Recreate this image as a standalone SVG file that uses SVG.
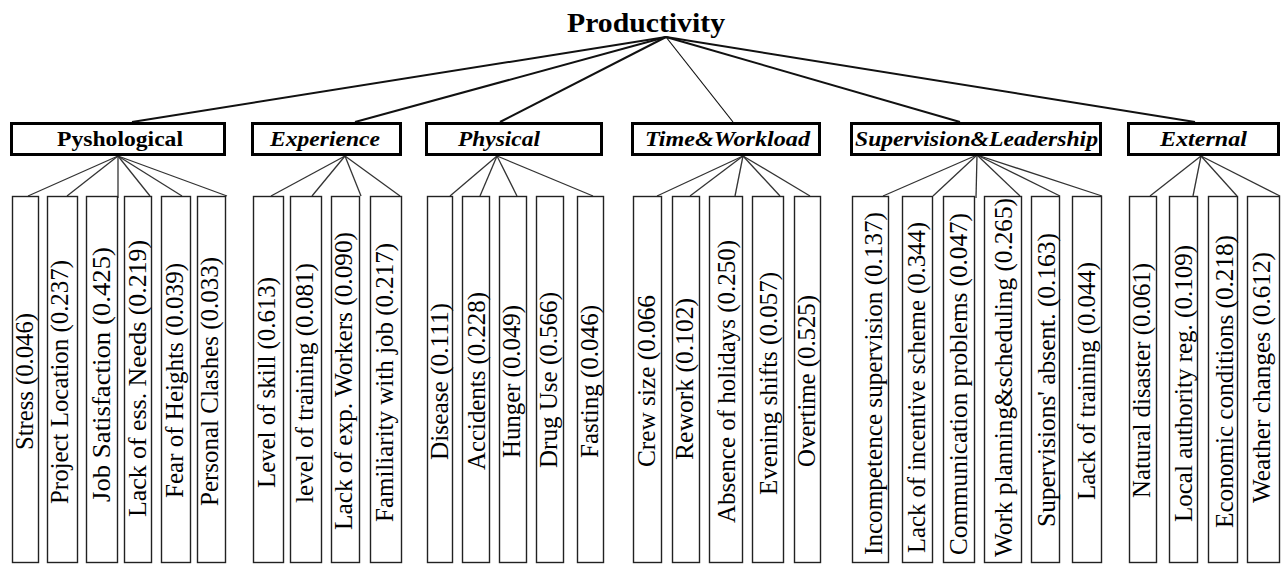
<svg xmlns="http://www.w3.org/2000/svg" width="1282" height="564" viewBox="0 0 1282 564">
<style>
.cat{fill:#fff;stroke:#000;stroke-width:3}
.leaf{fill:#fff;stroke:#222;stroke-width:1.4}
.ct{font-weight:bold;font-size:22px;fill:#000}
.it{font-style:italic}
.lt{font-size:25px;fill:#000}
.c1 line{stroke:#111;stroke-width:2}
.c2 line{stroke:#333;stroke-width:1.3}
</style>
<rect width="1282" height="564" fill="#fff"/>
<g id="connectors">
<g class="c1">
<line x1="666" y1="37" x2="132" y2="122"/>
<line x1="666" y1="37" x2="355" y2="122"/>
<line x1="666" y1="37" x2="500" y2="122"/>
<line x1="666" y1="37" x2="733" y2="122" style="stroke-width:1.2"/>
<line x1="666" y1="37" x2="960" y2="122"/>
<line x1="666" y1="37" x2="1195" y2="122"/>
</g>
<g class="c2">
<line x1="118" y1="156" x2="28" y2="196"/>
<line x1="118" y1="156" x2="67" y2="196"/>
<line x1="118" y1="156" x2="118" y2="198"/>
<line x1="118" y1="156" x2="150" y2="196"/>
<line x1="118" y1="156" x2="182" y2="196"/>
<line x1="118" y1="156" x2="227" y2="196"/>
<line x1="345" y1="156" x2="271" y2="196"/>
<line x1="345" y1="156" x2="312" y2="196"/>
<line x1="345" y1="156" x2="361" y2="196"/>
<line x1="345" y1="156" x2="400" y2="196"/>
<line x1="497" y1="156" x2="450" y2="196"/>
<line x1="497" y1="156" x2="480" y2="196"/>
<line x1="497" y1="156" x2="517" y2="196"/>
<line x1="497" y1="156" x2="593" y2="196"/>
<line x1="743" y1="156" x2="657" y2="196"/>
<line x1="743" y1="156" x2="690" y2="196"/>
<line x1="743" y1="156" x2="735" y2="196"/>
<line x1="743" y1="156" x2="780" y2="196"/>
<line x1="743" y1="156" x2="810" y2="196"/>
<line x1="977" y1="155" x2="883" y2="196"/>
<line x1="977" y1="155" x2="933" y2="196"/>
<line x1="977" y1="155" x2="976" y2="198"/>
<line x1="977" y1="155" x2="1020" y2="196"/>
<line x1="977" y1="155" x2="1060" y2="196"/>
<line x1="977" y1="155" x2="1102" y2="196"/>
<line x1="1201" y1="156" x2="1150" y2="196"/>
<line x1="1201" y1="156" x2="1193" y2="196"/>
<line x1="1201" y1="156" x2="1237" y2="196"/>
<line x1="1201" y1="156" x2="1280" y2="196"/>
</g>
</g>
<g font-family="Liberation Serif, Times New Roman, serif">
<g id="productivity">
<text x="567" y="32" font-weight="bold" font-size="28" textLength="158" lengthAdjust="spacingAndGlyphs">Productivity</text>
</g>
<g id="pyshological"><rect class="cat" x="11.5" y="123.5" width="213" height="31"/><text class="ct" x="57" y="146" textLength="126" lengthAdjust="spacingAndGlyphs">Pyshological</text></g>
<g id="experience"><rect class="cat" x="252.5" y="123.5" width="148" height="31"/><text class="ct it" x="270" y="146" textLength="110" lengthAdjust="spacingAndGlyphs">Experience</text></g>
<g id="physical"><rect class="cat" x="426.5" y="123.5" width="175" height="31"/><text class="ct it" x="458" y="146" textLength="82" lengthAdjust="spacingAndGlyphs">Physical</text></g>
<g id="timeworkload"><rect class="cat" x="632.5" y="123.5" width="187" height="31"/><text class="ct it" x="645" y="146" textLength="165" lengthAdjust="spacingAndGlyphs">Time&amp;Workload</text></g>
<g id="supervision"><rect class="cat" x="851.5" y="123.5" width="249" height="31"/><text class="ct it" x="855" y="146" textLength="243" lengthAdjust="spacingAndGlyphs">Supervision&amp;Leadership</text></g>
<g id="external"><rect class="cat" x="1128.5" y="123.5" width="150" height="31"/><text class="ct it" x="1160" y="146" textLength="87" lengthAdjust="spacingAndGlyphs">External</text></g>

<g id="l1"><rect class="leaf" x="12.5" y="196.5" width="26" height="366"/><text class="lt" transform="translate(33,450) rotate(-90)" textLength="137" lengthAdjust="spacingAndGlyphs">Stress (0.046)</text></g>
<g id="l2"><rect class="leaf" x="47.5" y="196.5" width="30" height="366"/><text class="lt" transform="translate(68,504) rotate(-90)" textLength="244" lengthAdjust="spacingAndGlyphs">Project Location (0.237)</text></g>
<g id="l3"><rect class="leaf" x="86.5" y="196.5" width="31" height="366"/><text class="lt" transform="translate(110,502) rotate(-90)" textLength="255" lengthAdjust="spacingAndGlyphs">Job Satisfaction (0.425)</text></g>
<g id="l4"><rect class="leaf" x="124.5" y="196.5" width="27" height="366"/><text class="lt" transform="translate(146,517) rotate(-90)" textLength="277" lengthAdjust="spacingAndGlyphs">Lack of ess. Needs (0.219)</text></g>
<g id="l5"><rect class="leaf" x="161.5" y="196.5" width="29" height="366"/><text class="lt" transform="translate(183,498) rotate(-90)" textLength="235" lengthAdjust="spacingAndGlyphs">Fear of Heights (0.039)</text></g>
<g id="l6"><rect class="leaf" x="197.5" y="196.5" width="28" height="366"/><text class="lt" transform="translate(218,506) rotate(-90)" textLength="249" lengthAdjust="spacingAndGlyphs">Personal Clashes (0.033)</text></g>
<g id="l7"><rect class="leaf" x="253.5" y="196.5" width="30" height="366"/><text class="lt" transform="translate(275,488) rotate(-90)" textLength="211" lengthAdjust="spacingAndGlyphs">Level of skill (0.613)</text></g>
<g id="l8"><rect class="leaf" x="290.5" y="196.5" width="31" height="366"/><text class="lt" transform="translate(313,503) rotate(-90)" textLength="240" lengthAdjust="spacingAndGlyphs">level of training (0.081)</text></g>
<g id="l9"><rect class="leaf" x="331.5" y="196.5" width="28" height="366"/><text class="lt" transform="translate(352,530) rotate(-90)" textLength="298" lengthAdjust="spacingAndGlyphs">Lack of exp. Workers (0.090)</text></g>
<g id="l10"><rect class="leaf" x="370.5" y="196.5" width="31" height="366"/><text class="lt" transform="translate(393,522) rotate(-90)" textLength="279" lengthAdjust="spacingAndGlyphs">Familiarity with job (0.217)</text></g>
<g id="l11"><rect class="leaf" x="427.5" y="196.5" width="25" height="366"/><text class="lt" transform="translate(448,460) rotate(-90)" textLength="157" lengthAdjust="spacingAndGlyphs">Disease (0.111)</text></g>
<g id="l12"><rect class="leaf" x="462.5" y="196.5" width="27" height="366"/><text class="lt" transform="translate(485,470) rotate(-90)" textLength="178" lengthAdjust="spacingAndGlyphs">Accidents (0.228)</text></g>
<g id="l13"><rect class="leaf" x="499.5" y="196.5" width="27" height="366"/><text class="lt" transform="translate(520,458) rotate(-90)" textLength="153" lengthAdjust="spacingAndGlyphs">Hunger (0.049)</text></g>
<g id="l14"><rect class="leaf" x="536.5" y="196.5" width="27" height="366"/><text class="lt" transform="translate(557,468) rotate(-90)" textLength="176" lengthAdjust="spacingAndGlyphs">Drug Use (0.566)</text></g>
<g id="l15"><rect class="leaf" x="577.5" y="196.5" width="26" height="366"/><text class="lt" transform="translate(598,458) rotate(-90)" textLength="153" lengthAdjust="spacingAndGlyphs">Fasting (0.046)</text></g>
<g id="l16"><rect class="leaf" x="633.5" y="196.5" width="28" height="366"/><text class="lt" transform="translate(655,467) rotate(-90)" textLength="172" lengthAdjust="spacingAndGlyphs">Crew size (0.066</text></g>
<g id="l17"><rect class="leaf" x="672.5" y="196.5" width="27" height="366"/><text class="lt" transform="translate(693,460) rotate(-90)" textLength="162" lengthAdjust="spacingAndGlyphs">Rework (0.102)</text></g>
<g id="l18"><rect class="leaf" x="709.5" y="196.5" width="33" height="366"/><text class="lt" transform="translate(735,523) rotate(-90)" textLength="283" lengthAdjust="spacingAndGlyphs">Absence of holidays (0.250)</text></g>
<g id="l19"><rect class="leaf" x="752.5" y="196.5" width="31" height="366"/><text class="lt" transform="translate(777,495) rotate(-90)" textLength="223" lengthAdjust="spacingAndGlyphs">Evening shifts (0.057)</text></g>
<g id="l20"><rect class="leaf" x="794.5" y="196.5" width="26" height="366"/><text class="lt" transform="translate(815,467) rotate(-90)" textLength="172" lengthAdjust="spacingAndGlyphs">Overtime (0.525)</text></g>
<g id="l21"><rect class="leaf" x="852.5" y="196.5" width="36" height="366"/><text class="lt" transform="translate(882,555) rotate(-90)" textLength="343" lengthAdjust="spacingAndGlyphs">Incompetence supervision (0.137)</text></g>
<g id="l22"><rect class="leaf" x="902.5" y="196.5" width="30" height="366"/><text class="lt" transform="translate(925,553) rotate(-90)" textLength="331" lengthAdjust="spacingAndGlyphs">Lack of incentive scheme (0.344)</text></g>
<g id="l23"><rect class="leaf" x="943.5" y="196.5" width="31" height="366"/><text class="lt" transform="translate(967,555) rotate(-90)" textLength="342" lengthAdjust="spacingAndGlyphs">Communication problems (0.047)</text></g>
<g id="l24"><rect class="leaf" x="984.5" y="196.5" width="37" height="366"/><text class="lt" transform="translate(1012,557) rotate(-90)" textLength="359" lengthAdjust="spacingAndGlyphs">Work planning&amp;scheduling (0.265)</text></g>
<g id="l25"><rect class="leaf" x="1031.5" y="196.5" width="28" height="366"/><text class="lt" transform="translate(1055,527) rotate(-90)" textLength="294" lengthAdjust="spacingAndGlyphs">Supervisions' absent. (0.163)</text></g>
<g id="l26"><rect class="leaf" x="1072.5" y="196.5" width="29" height="366"/><text class="lt" transform="translate(1095,500) rotate(-90)" textLength="238" lengthAdjust="spacingAndGlyphs">Lack of training (0.044)</text></g>
<g id="l27"><rect class="leaf" x="1129.5" y="196.5" width="27" height="366"/><text class="lt" transform="translate(1150,498) rotate(-90)" textLength="235" lengthAdjust="spacingAndGlyphs">Natural disaster (0.061)</text></g>
<g id="l28"><rect class="leaf" x="1169.5" y="196.5" width="28" height="366"/><text class="lt" transform="translate(1192,522) rotate(-90)" textLength="277" lengthAdjust="spacingAndGlyphs">Local authority reg. (0.109)</text></g>
<g id="l29"><rect class="leaf" x="1208.5" y="196.5" width="29" height="366"/><text class="lt" transform="translate(1233,528) rotate(-90)" textLength="293" lengthAdjust="spacingAndGlyphs">Economic conditions (0.218)</text></g>
<g id="l30"><rect class="leaf" x="1247.5" y="196.5" width="32" height="366"/><text class="lt" transform="translate(1270,503) rotate(-90)" textLength="251" lengthAdjust="spacingAndGlyphs">Weather changes (0.612)</text></g>
</g>
</svg>
